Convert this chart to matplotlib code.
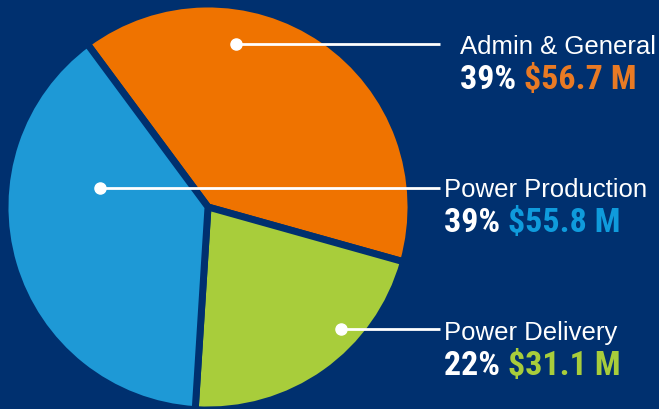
import matplotlib
matplotlib.use("Agg")
import matplotlib.pyplot as plt
from matplotlib import font_manager

categories = ["Admin & General", "Power Delivery", "Power Production"]
values = [56.7, 31.1, 55.8]
percent_labels = ["39%", "22%", "39%"]
amount_labels = ["$56.7 M", "$31.1 M", "$55.8 M"]

BG = "#00306f"
slice_colors = ["#ef7300", "#a8cd3b", "#1e99d6"]
text_colors = ["#e97a24", "#a8cd3b", "#0f9bdc"]

W, H = 659, 410
fig = plt.figure(figsize=(W / 100, H / 100), dpi=100, facecolor=BG)
ax = fig.add_axes([0, 0, 1, 1])
ax.set_facecolor(BG)

cx, cy = 208, H - 208
ax.pie(values, colors=slice_colors, startangle=126.5, counterclock=False,
       center=(cx, cy), radius=203, frame=True,
       wedgeprops=dict(edgecolor=BG, linewidth=5, joinstyle="miter"))
ax.set_xlim(0, W)
ax.set_ylim(0, H)
ax.set_aspect("equal")
ax.axis("off")

names = [f.name for f in font_manager.fontManager.ttflist]
bold_family = "Liberation Sans Narrow" if "Liberation Sans Narrow" in names else "Roboto Condensed" if "Roboto Condensed" in names else "Liberation Sans"
light_family = "Liberation Sans"

# label layout (pixel coords from top)
dots = [(236, 45), (341, 330), (100, 189)]
line_end = [440, 440, 440]
text_x = [460, 444, 444]
name_y = [47, 333, 190]
val_y = [80, 366, 223]

for i in range(3):
    dx, dy = dots[i]
    ax.plot([dx, line_end[i]], [H - dy, H - dy], color="white", lw=2, solid_capstyle="butt", zorder=5)
    ax.plot([dx], [H - dy], "o", color="white", ms=8, zorder=6)
    ax.text(text_x[i], H - name_y[i], categories[i], color="white", fontsize=18.5,
            family=light_family, ha="left", va="center")
    t = ax.text(text_x[i], H - val_y[i], percent_labels[i] + " ", color="white", fontsize=24.5,
                family=bold_family, weight="bold", ha="left", va="center")
    fig.canvas.draw()
    bb = t.get_window_extent()
    x2 = bb.x1
    ax.text(x2, H - val_y[i], amount_labels[i], color=text_colors[i], fontsize=24.5,
            family=bold_family, weight="bold", ha="left", va="center")

fig.savefig("out.png", dpi=100, facecolor=BG)
